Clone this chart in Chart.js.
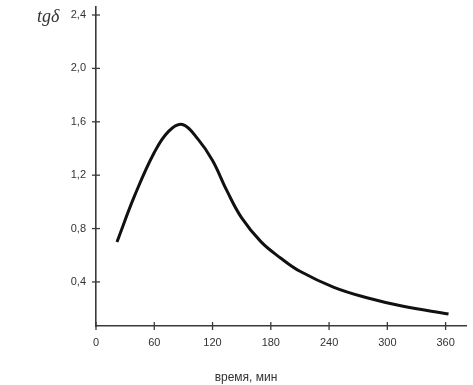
<!DOCTYPE html>
<html>
<head>
<meta charset="utf-8">
<script src="https://cdn.jsdelivr.net/npm/chart.js@4"></script>
<style>
  html, body { margin: 0; padding: 0; background: #fff; }
  #wrap { width: 473px; height: 385px; }
</style>
</head>
<body>
<div id="wrap"><canvas id="myChart"></canvas></div>
<script>
// time, min
const times = [21.6, 40, 60, 75, 89, 105, 120, 135, 150, 170, 190, 210, 245, 280, 315, 363]
// tg delta
const values = [0.70, 1.05, 1.37, 1.53, 1.58, 1.47, 1.31, 1.08, 0.88, 0.70, 0.58, 0.48, 0.36, 0.28, 0.22, 0.16]
const xTicks = [0, 60, 120, 180, 240, 300, 360]
const yTicks = [0.4, 0.8, 1.2, 1.6, 2.0, 2.4]

const axisColor = '#3a3a3a'

// short ticks that cross the axis line, plus axis labels
const extras = {
    id: 'extras',
    afterDraw(chart) {
        const ctx = chart.ctx
        const x = chart.scales.x
        const y = chart.scales.y
        ctx.save()
        ctx.strokeStyle = axisColor
        ctx.lineWidth = 1.3
        yTicks.forEach(v => {
            const py = y.getPixelForValue(v)
            ctx.beginPath()
            ctx.moveTo(x.left - 4, py)
            ctx.lineTo(x.left + 4, py)
            ctx.stroke()
        })
        xTicks.forEach(v => {
            const px = x.getPixelForValue(v)
            ctx.beginPath()
            ctx.moveTo(px, y.bottom - 4)
            ctx.lineTo(px, y.bottom + 4)
            ctx.stroke()
        })
        ctx.fillStyle = '#333'
        ctx.font = 'italic 18px "Liberation Serif", serif'
        ctx.textAlign = 'left'
        ctx.textBaseline = 'middle'
        ctx.fillText('tgδ', 37, 17)
        ctx.font = '12px "Liberation Sans", Arial, sans-serif'
        ctx.textAlign = 'center'
        ctx.fillText('время, мин', 246, 378)
        ctx.restore()
    }
}

const data = times.map((t, i) => ({ x: t, y: values[i] }))

const config = {
    type: 'line',
    data: {
        datasets: [{
            data: data,
            borderColor: '#111',
            borderWidth: 3,
            pointRadius: 0,
            tension: 0.4,
            fill: false
        }]
    },
    options: {
        responsive: true,
        maintainAspectRatio: false,
        animation: false,
        layout: { padding: { top: 7, right: 7, left: 0, bottom: 0 } },
        plugins: { legend: { display: false }, tooltip: { enabled: false } },
        scales: {
            x: {
                type: 'linear',
                min: 0,
                max: 381,
                afterBuildTicks: s => { s.ticks = xTicks.map(v => ({ value: v })) },
                afterFit: s => { s.height = 59; s.paddingLeft = 0; s.paddingRight = 0 },
                grid: { display: false, drawTicks: false },
                border: { color: axisColor, width: 1.6 },
                ticks: {
                    padding: 10,
                    color: '#333',
                    font: { family: '"Liberation Sans", Arial, sans-serif', size: 11 }
                }
            },
            y: {
                min: 0.07,
                max: 2.46,
                afterBuildTicks: s => { s.ticks = yTicks.map(v => ({ value: v })) },
                afterFit: s => { s.width = 96; s.paddingTop = 0; s.paddingBottom = 0 },
                grid: { display: false, drawTicks: false },
                border: { color: axisColor, width: 1.6 },
                ticks: {
                    padding: 10,
                    color: '#333',
                    font: { family: '"Liberation Sans", Arial, sans-serif', size: 11 },
                    callback: v => v.toFixed(1).replace('.', ',')
                }
            }
        }
    },
    plugins: [extras]
}

const myChart = new Chart(document.getElementById('myChart'), config)
</script>
</body>
</html>
